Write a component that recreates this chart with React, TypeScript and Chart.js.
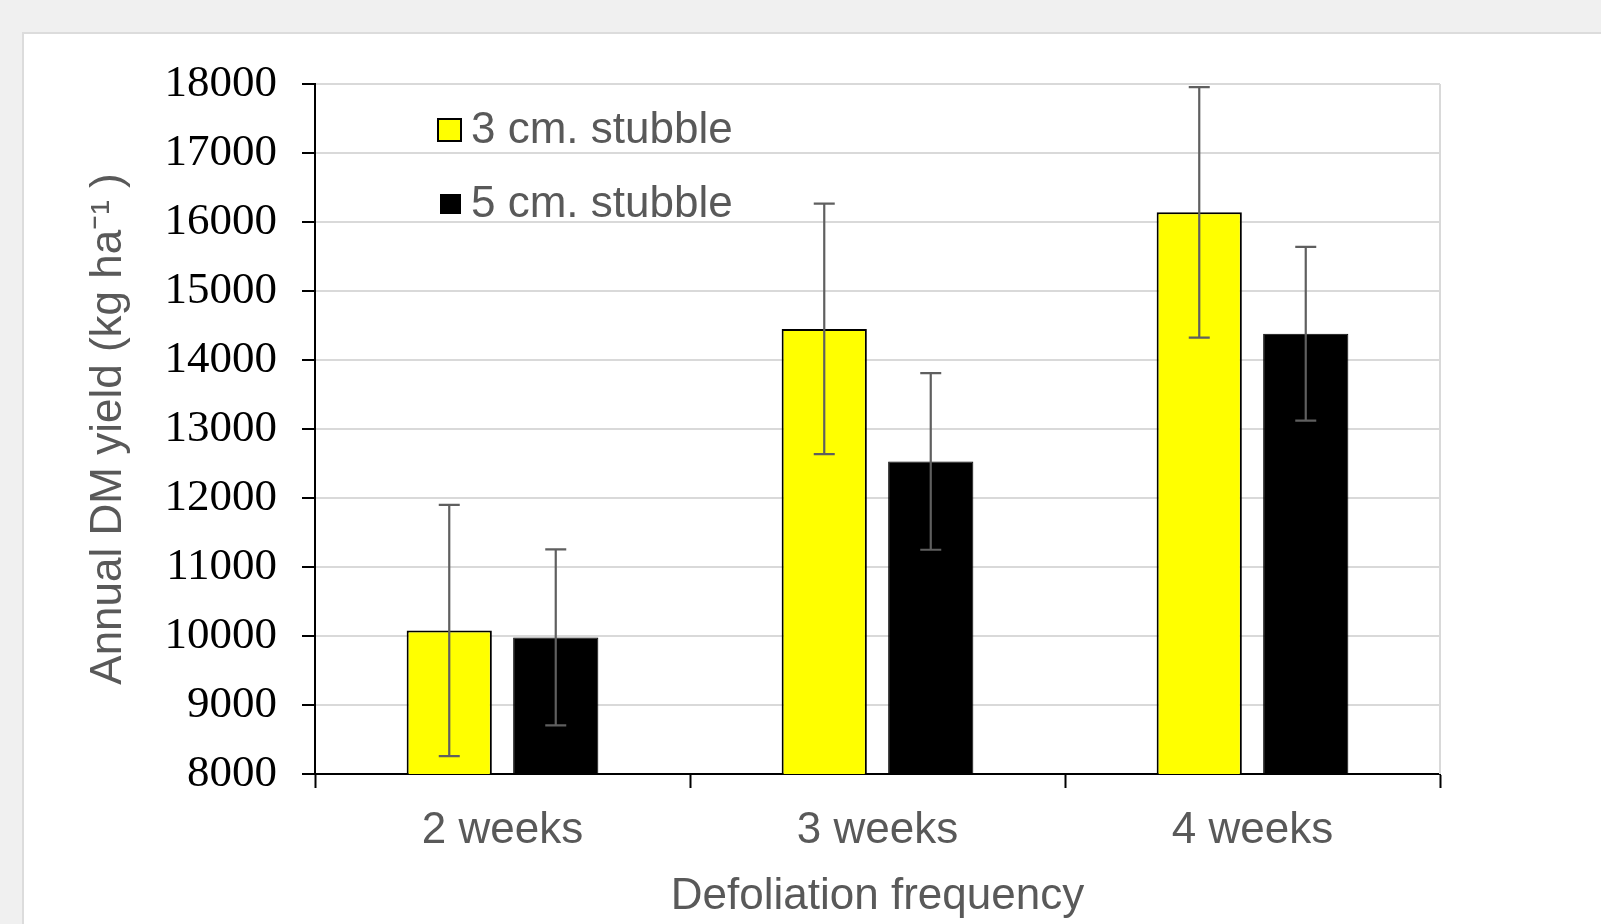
import { useEffect, useRef } from 'react';
import { Chart, registerables } from 'chart.js';
import type { Plugin } from 'chart.js';

Chart.register(...registerables);

// ── Data ──

const categories = ['2 weeks', '3 weeks', '4 weeks'];
const seriesLabels = ['3 cm. stubble', '5 cm. stubble'];
const stubble3 = [10080, 14450, 16140];
const stubble3Err = [1820, 1815, 1815];
const stubble5 = [9980, 12530, 14380];
const stubble5Err = [1275, 1280, 1260];
const yTicks = [8000, 9000, 10000, 11000, 12000, 13000, 14000, 15000, 16000, 17000, 18000];

const YELLOW = '#FFFF00';
const TEXT_GRAY = '#595959';
const GRID_GRAY = '#d9d9d9';

// ── Plugins ──

const plotBorder: Plugin<'bar'> = {
  id: 'plotBorder',
  beforeDatasetsDraw(chart) {
    const { ctx, chartArea } = chart;
    ctx.save();
    ctx.strokeStyle = GRID_GRAY;
    ctx.lineWidth = 2;
    ctx.beginPath();
    ctx.moveTo(chartArea.right, chartArea.top);
    ctx.lineTo(chartArea.right, chartArea.bottom);
    ctx.stroke();
    ctx.restore();
  },
};

const errorBars: Plugin<'bar'> = {
  id: 'errorBars',
  afterDatasetsDraw(chart) {
    const { ctx } = chart;
    const yScale = chart.scales.y;
    const errs = [stubble3Err, stubble5Err];
    ctx.save();
    ctx.strokeStyle = '#5f5f5f';
    ctx.lineWidth = 2.2;
    chart.data.datasets.forEach((ds, di) => {
      const meta = chart.getDatasetMeta(di);
      meta.data.forEach((bar, i) => {
        const v = ds.data[i] as number;
        const e = errs[di][i];
        const x = bar.x;
        const top = yScale.getPixelForValue(v + e);
        const bot = yScale.getPixelForValue(v - e);
        ctx.beginPath();
        ctx.moveTo(x, top);
        ctx.lineTo(x, bot);
        ctx.moveTo(x - 10.5, top);
        ctx.lineTo(x + 10.5, top);
        ctx.moveTo(x - 10.5, bot);
        ctx.lineTo(x + 10.5, bot);
        ctx.stroke();
      });
    });
    ctx.restore();
  },
};

const insideLegend: Plugin<'bar'> = {
  id: 'insideLegend',
  afterDraw(chart) {
    const { ctx, chartArea } = chart;
    const left = chartArea.left + 123;
    const rows = [chartArea.top + 46, chartArea.top + 120];
    ctx.save();
    ctx.font = '44px "Liberation Sans", Arial, sans-serif';
    ctx.textBaseline = 'middle';
    ctx.textAlign = 'left';
    chart.data.datasets.forEach((ds, di) => {
      const cy = rows[di];
      if (di === 0) {
        ctx.fillStyle = YELLOW;
        ctx.fillRect(left, cy - 11, 23, 22);
        ctx.strokeStyle = '#000';
        ctx.lineWidth = 2;
        ctx.strokeRect(left, cy - 11, 23, 22);
      } else {
        ctx.fillStyle = '#000';
        ctx.fillRect(left + 2, cy - 10, 21, 20);
      }
      ctx.fillStyle = TEXT_GRAY;
      ctx.fillText(ds.label as string, left + 33, cy + 1);
    });
    ctx.restore();
  },
};

// ── Chart ──

function YieldChart() {
  const canvasRef = useRef<HTMLCanvasElement>(null);
  const chartRef = useRef<Chart | null>(null);

  useEffect(() => {
    if (!canvasRef.current) return;
    const ctx = canvasRef.current.getContext('2d');
    if (!ctx) return;

    if (chartRef.current) chartRef.current.destroy();

    chartRef.current = new Chart(ctx, {
      type: 'bar',
      data: {
        labels: categories,
        datasets: [
          {
            label: seriesLabels[0],
            data: stubble3,
            backgroundColor: YELLOW,
            borderColor: '#000',
            borderWidth: 2,
            categoryPercentage: 0.568,
            barPercentage: 0.8,
          },
          {
            label: seriesLabels[1],
            data: stubble5,
            backgroundColor: '#000',
            borderColor: '#000',
            borderWidth: 1,
            categoryPercentage: 0.568,
            barPercentage: 0.8,
          },
        ],
      },
      options: {
        responsive: true,
        maintainAspectRatio: false,
        animation: false,
        layout: { padding: { left: 0, top: 84, right: 161, bottom: 0 } },
        plugins: {
          legend: { display: false },
          tooltip: { enabled: false },
        },
        scales: {
          x: {
            afterFit: (s) => { s.height = 150; },
            grid: {
              display: true,
              drawOnChartArea: false,
              drawTicks: true,
              tickLength: 14,
              tickColor: '#000',
              tickWidth: 2,
              offset: true,
            },
            border: { color: '#000', width: 2 },
            ticks: {
              color: TEXT_GRAY,
              padding: 16,
              font: { family: '"Liberation Sans", Arial, sans-serif', size: 44 },
            },
            title: {
              display: true,
              text: 'Defoliation frequency',
              color: TEXT_GRAY,
              padding: { top: 0, bottom: 1 },
              font: { family: '"Liberation Sans", Arial, sans-serif', size: 44 },
            },
          },
          y: {
            min: yTicks[0],
            max: yTicks[yTicks.length - 1],
            afterFit: (s) => { s.width = 315; },
            afterBuildTicks: (s) => { s.ticks = yTicks.map((v) => ({ value: v })); },
            grid: {
              color: GRID_GRAY,
              lineWidth: 2,
              tickLength: 13,
              tickColor: '#000',
              tickWidth: 2,
            },
            border: { color: '#000', width: 2 },
            ticks: {
              color: '#000',
              padding: 25,
              callback: (v) => String(v),
              font: { family: '"Liberation Serif", "Times New Roman", serif', size: 45 },
            },
            title: {
              display: true,
              text: 'Annual DM yield (kg ha\u207B\u00B9 )',
              color: TEXT_GRAY,
              padding: { top: 82, bottom: 0 },
              font: { family: '"Liberation Sans", Arial, sans-serif', size: 44 },
            },
          },
        },
      },
      plugins: [plotBorder, errorBars, insideLegend],
    });

    return () => {
      if (chartRef.current) {
        chartRef.current.destroy();
        chartRef.current = null;
      }
    };
  }, []);

  return <canvas ref={canvasRef} />;
}

export default function App() {
  return (
    <div style={{ position: 'fixed', inset: 0, background: '#f0f0f0', overflow: 'hidden' }}>
      <div
        style={{
          position: 'absolute',
          left: 22,
          top: 32,
          width: 1640,
          height: 960,
          background: '#fff',
          border: '2px solid #dcdcdc',
        }}
      />
      <div style={{ position: 'absolute', left: 0, top: 0, width: 1601, height: 924 }}>
        <YieldChart />
      </div>
    </div>
  );
}
